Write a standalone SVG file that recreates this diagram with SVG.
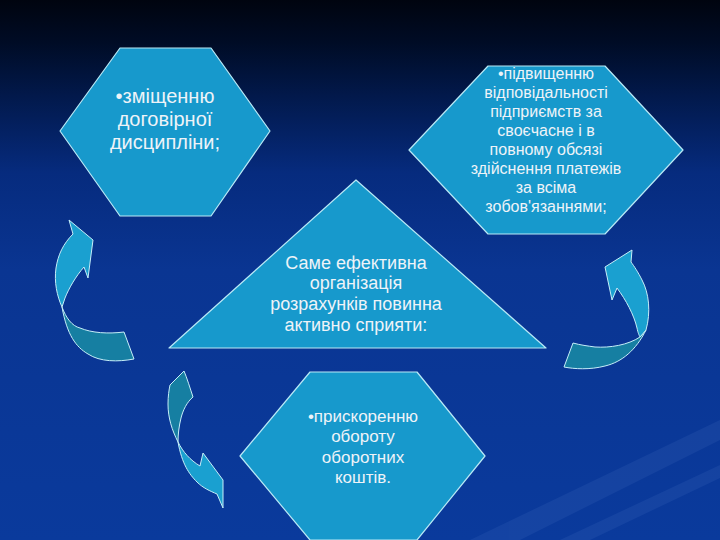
<svg xmlns="http://www.w3.org/2000/svg" width="720" height="540" viewBox="0 0 720 540">
<defs>
<linearGradient id="bg" x1="0" y1="0" x2="0" y2="1">
<stop offset="0" stop-color="#00040f"/>
<stop offset="0.08" stop-color="#000c26"/>
<stop offset="0.18" stop-color="#02194c"/>
<stop offset="0.32" stop-color="#062b7e"/>
<stop offset="0.5" stop-color="#0a3592"/>
<stop offset="1" stop-color="#0a3a9c"/>
</linearGradient>
<style>
.shape{fill:#1799cc;stroke:#b9e9f6;stroke-width:1.2;stroke-linejoin:round}
.light{fill:#1aa0d0;stroke:#c6eef8;stroke-width:1;stroke-linejoin:round}
.dark{fill:#167fa2;stroke:#c6eef8;stroke-width:1;stroke-linejoin:round}
text{font-family:"Liberation Sans",Arial,sans-serif;fill:#eef3f8;text-anchor:middle}
</style>
</defs>
<rect width="720" height="540" fill="url(#bg)"/>
<g opacity="0.07" fill="#9fc4ff">
<polygon points="470,540 720,420 720,440 520,540"/>
<polygon points="560,540 720,465 720,478 590,540"/>
</g>
<g id="connectors">
<g id="arrow-left">
<path class="dark" d="M62,307 C66,318 72,326 80,328 C92,333 108,334 124,332 L134,359 C118,362 100,362 88,354 C76,347 67,335 62,307 Z"/>
<path class="light" d="M62,307 C57,296 54,282 56,268 C58,255 63,244 73,234 L69,220 L93,240 L88,278 L84,267 C76,276 69,288 65,298 Z"/>
</g>
<g id="arrow-right">
<path class="dark" d="M640,337 C628,345 610,348 595,347 C588,346 580,345 573,343 L564,367 C574,369 590,370 605,366 C622,362 636,350 646,330 Z"/>
<path class="light" d="M646,330 C651,312 649,293 642,280 C638,272 634,266 631,262 L632,250 L605,267 L612,300 L617,288 C626,300 634,315 637,328 C638,333 639,335 640,337 Z"/>
</g>
<g id="arrow-bottom">
<path class="dark" d="M170,385 L184,371 C187,378 190,388 193,397 C187,402 183,410 181,418 C179,426 178,434 178,442 C172,430 168,418 168,404 C168,396 169,390 170,385 Z"/>
<path class="light" d="M178,442 C183,452 190,460 200,466 L203,453 L223,480 L223,508 L217,494 C210,491 203,488 197,482 C189,474 182,464 178,442 Z"/>
</g>
</g>
<g id="node-top-left">
<polygon class="shape" points="120,48 211,48 270,131 211,216 120,216 60,131"/>
<text font-size="20"><tspan x="165" y="103">•зміщенню</tspan><tspan x="165" y="126">договірної</tspan><tspan x="165" y="148.5">дисципліни;</tspan></text>
</g>
<g id="node-top-right">
<polygon class="shape" points="488,66 605,66 683,150 605,234 488,234 409,150"/>
<text font-size="16"><tspan x="546" y="78.5">•підвищенню</tspan><tspan x="546" y="97.5">відповідальності</tspan><tspan x="546" y="116.5">підприємств за</tspan><tspan x="546" y="135.5">своєчасне і в</tspan><tspan x="546" y="154.5">повному обсязі</tspan><tspan x="546" y="173.5">здійснення платежів</tspan><tspan x="546" y="192.5">за всіма</tspan><tspan x="546" y="211.5">зобов'язаннями;</tspan></text>
</g>
<g id="node-center">
<polygon class="shape" points="356,180 546,348 169,348"/>
<text font-size="18"><tspan x="356" y="268.5">Саме ефективна</tspan><tspan x="356" y="289.3">організація</tspan><tspan x="356" y="310.1">розрахунків повинна</tspan><tspan x="356" y="330.9">активно сприяти:</tspan></text>
</g>
<g id="node-bottom">
<polygon class="shape" points="310,372 417,372 485,456 417,540 310,540 240,456"/>
<text font-size="17"><tspan x="363" y="421.7">•прискоренню</tspan><tspan x="363" y="442">обороту</tspan><tspan x="363" y="462.5">оборотних</tspan><tspan x="363" y="483">коштів.</tspan></text>
</g>
</svg>
